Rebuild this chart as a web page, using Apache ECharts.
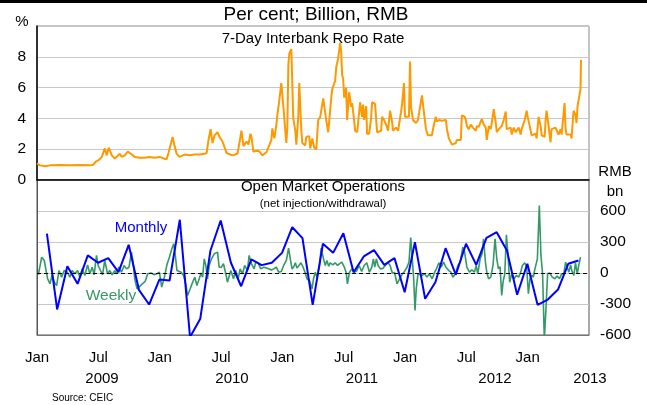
<!DOCTYPE html>
<html style="height: 100%">
<head>
    <meta charset="utf-8">
    <title>China repo rate and open market operations</title>
</head>
<body style="height: 100%; margin: 0">
    <div id="container" style="width: 647px; height: 405px"></div>
    <script type="text/javascript" src="https://cdn.jsdelivr.net/npm/echarts@6/dist/echarts.min.js"></script>
    <script type="text/javascript">
        // x values are months since Jan 2009
        var monthLabels = ['Jan', 'Jul'];
        var yearLabels  = ['2009', '2010', '2011', '2012', '2013'];

        // 7-day interbank repo rate, per cent
        var repoRate = [
            [0,1.08],[0.29,0.95],[0.78,0.9],[1.27,0.95],[2.24,0.97],[3.22,0.95],[4.2,0.97],[5.17,0.95],
            [5.46,0.97],[5.76,1.2],[6.05,1.3],[6.34,1.5],[6.63,2.05],[6.83,1.6],[7.02,2.1],[7.32,1.6],
            [7.61,1.4],[7.8,1.3],[8.1,1.7],[8.29,1.5],[8.59,1.6],[8.88,1.85],[9.17,1.7],[9.56,1.5],
            [10.05,1.45],[10.54,1.45],[11.02,1.5],[11.51,1.45],[12,1.5],[12.39,1.4],[12.68,1.35],[12.88,1.8],
            [13.07,1.85],[13.27,2.8],[13.46,2.2],[13.66,1.7],[13.95,1.5],[14.44,1.65],[14.93,1.6],[15.41,1.65],
            [15.9,1.65],[16.39,1.7],[16.59,1.75],[16.78,2.6],[16.98,3.3],[17.17,2.4],[17.37,2.9],[17.66,3.1],
            [17.85,2.8],[18.15,2.5],[18.54,1.75],[19.12,1.6],[19.61,1.7],[19.8,2.4],[20,3.2],[20.2,2.2],
            [20.49,2.5],[20.68,2.3],[20.88,3.0],[20.98,2.8],[21.17,1.85],[21.56,1.9],[21.76,1.85],[22.05,1.6],
            [22.44,1.8],[22.63,2.1],[22.93,2.6],[23.02,3.35],[23.22,2.7],[23.41,3.55],[23.51,4.2],[23.71,5.2],
            [23.9,6.3],[24,6.4],[24.1,4.8],[24.29,3.2],[24.39,2.4],[24.49,3.4],[24.59,7.5],[24.68,8.2],
            [24.88,8.5],[24.98,8.6],[25.07,4.0],[25.27,3.2],[25.37,2.3],[25.56,4.1],[25.66,6.3],[25.85,3.3],
            [25.95,2.4],[26.24,2.25],[26.34,2.8],[26.63,2.85],[26.73,2.05],[26.93,2.7],[27.12,2.1],[27.32,2.0],
            [27.51,3.9],[27.71,4.1],[27.8,4.2],[28,5.3],[28.29,3.9],[28.49,3.1],[28.78,5.3],[28.88,5.9],
            [29.17,6.45],[29.27,7.3],[29.46,7.9],[29.66,8.9],[29.76,8.3],[29.85,6.8],[29.95,6.6],[30.05,5.35],
            [30.24,6.0],[30.34,3.9],[30.54,5.7],[30.73,4.75],[30.83,5.0],[31.02,3.9],[31.12,3.2],[31.32,3.1],
            [31.61,5.05],[31.8,4.1],[31.9,4.9],[32,3.9],[32.2,4.8],[32.29,3.0],[32.49,3.0],[32.68,4.0],
            [32.78,5.05],[33.07,4.95],[33.27,3.1],[33.66,3.2],[33.76,4.1],[33.95,3.9],[34.15,3.6],[34.34,3.2],
            [34.54,4.5],[34.73,3.8],[34.83,3.2],[35.12,3.4],[35.32,3.2],[35.61,4.4],[35.71,4.9],[35.9,6.3],
            [36,4.1],[36.1,4.1],[36.39,4.1],[36.49,7.7],[36.59,4.75],[36.78,3.9],[37.07,3.7],[37.27,3.9],
            [37.56,5.1],[37.66,5.5],[37.85,4.4],[38.05,3.3],[38.24,2.9],[38.34,2.9],[38.63,2.9],[38.83,3.6],
            [39.02,4.1],[39.12,3.8],[39.32,3.9],[39.61,3.85],[40,3.9],[40.1,3.3],[40.29,2.7],[40.59,2.3],
            [40.98,2.4],[41.07,2.6],[41.46,2.6],[41.56,4.2],[41.85,4.1],[41.95,3.9],[42.05,3.5],[42.24,3.3],
            [42.44,3.6],[42.63,3.4],[42.73,3.5],[42.93,3.2],[43.02,3.5],[43.22,3.45],[43.41,3.8],[43.51,3.95],
            [43.71,3.6],[43.9,3.4],[44,2.6],[44.2,3.5],[44.39,3.3],[44.49,3.7],[44.68,4.6],[44.88,3.7],
            [44.98,3.1],[45.17,3.3],[45.46,3.5],[45.66,3.9],[45.85,4.45],[45.95,3.3],[46.34,3.4],[46.44,2.95],
            [46.63,3.4],[46.83,3.1],[47.12,3.4],[47.32,2.95],[47.41,3.3],[47.71,3.9],[47.9,4.5],[48,4.1],
            [48.2,3.5],[48.39,2.9],[48.78,3.0],[48.88,2.7],[49.07,4.1],[49.27,3.5],[49.37,2.9],[49.66,2.8],
            [49.76,3.9],[49.85,4.5],[50.05,3.5],[50.24,2.45],[50.34,3.3],[50.73,3.4],[51.02,2.95],[51.22,3.3],
            [51.32,2.95],[51.61,5.0],[51.71,3.3],[51.8,2.95],[52.2,2.95],[52.29,2.7],[52.49,4.5],[52.68,4.2],
            [52.78,3.7],[52.88,4.8],[53.07,4.8],[53.17,5.9],[53.22,7.8]
        ];

        // open market operations, monthly net injection, RMB bn (Jan 2009 .. May 2013)
        var monthlyOmo = [
            380, -353, 66, -105, 170, 99, 144, 8, 273, -163, -305, -63,
            -73, 515, -621, -443, 218, 508, 99, -128, 131, 76, 99, 195,
            443, 337, -308, 283, 195, 385, 8, 160, 222, 79, 144, -186,
            298, -250, -89, 240, -17, 283, 79, 340, 395, 218, -211, 89,
            -308, -257, -160, 89, 121
        ];

        // open market operations, weekly net injection, RMB bn
        var weeklyOmo = [
            [0.13,-17],[0.46,153],[0.71,121],[1.04,-56],[1.27,-105],[1.49,-17],[1.69,-89],[1.92,-121],
            [2.15,24],[2.41,-40],[2.66,24],[2.96,8],[3.22,-40],[3.44,24],[3.71,-8],[3.97,24],
            [4.2,-40],[4.42,40],[4.68,-24],[4.95,79],[5.17,-8],[5.4,56],[5.59,-17],[5.82,170],
            [5.98,73],[6.21,24],[6.41,-17],[6.63,121],[6.9,-8],[7.12,24],[7.35,-17],[7.61,24],
            [7.78,-8],[8,56],[8.26,8],[8.52,73],[8.75,40],[9,56],[9.24,202],[9.4,105],
            [9.56,-56],[9.79,-153],[10.05,-130],[10.34,-102],[10.59,-80],[10.83,-8],[11.15,0],[11.48,-17],
            [11.71,-8],[11.97,8],[12.2,-137],[12.46,-40],[12.71,79],[12.95,153],[13.17,227],[13.37,283],
            [13.53,170],[13.69,24],[13.85,8],[14.1,8],[14.34,-24],[14.57,-114],[14.73,-218],[14.99,-153],
            [15.22,-90],[15.44,-40],[15.64,-121],[15.87,-56],[16.05,0],[16.2,-40],[16.36,137],[16.52,73],
            [16.68,-56],[16.85,73],[17.07,137],[17.34,186],[17.49,170],[17.66,202],[17.82,56],[18.02,56],
            [18.24,89],[18.47,-8],[18.63,-89],[18.96,24],[19.22,-56],[19.44,24],[19.68,-56],[19.87,40],
            [20.1,-8],[20.32,73],[20.59,24],[20.75,170],[20.98,89],[21.24,40],[21.4,105],[21.63,99],
            [21.88,40],[22.18,56],[22.44,48],[22.66,40],[22.93,30],[23.17,40],[23.41,56],[23.64,8],
            [23.9,15],[24.13,73],[24.39,121],[24.61,240],[24.78,137],[24.95,40],[25.12,60],[25.27,99],
            [25.43,48],[25.61,70],[25.82,99],[26,65],[26.24,0],[26.41,-56],[26.66,-75],[26.9,-153],
            [27.05,-56],[27.22,8],[27.39,-40],[27.64,73],[27.8,240],[28.03,137],[28.2,73],[28.36,121],
            [28.54,65],[28.68,99],[28.95,79],[29.17,99],[29.4,73],[29.61,90],[29.82,105],[30.05,60],
            [30.24,8],[30.37,-105],[30.57,8],[30.8,40],[31.02,8],[31.27,20],[31.51,73],[31.76,15],
            [32,73],[32.26,99],[32.52,8],[32.75,56],[32.91,137],[33.04,56],[33.2,137],[33.37,73],
            [33.59,40],[33.85,45],[34.12,79],[34.34,99],[34.54,73],[34.76,0],[34.98,5],[35.22,-105],
            [35.48,-56],[35.74,-8],[35.95,15],[36.2,56],[36.39,105],[36.56,344],[36.71,137],[36.85,-56],
            [36.98,-363],[37.1,-153],[37.27,-8],[37.46,0],[37.69,-24],[37.9,-8],[38.15,-40],[38.39,-8],
            [38.66,-56],[38.9,8],[39.07,40],[39.32,99],[39.54,56],[39.78,105],[40,56],[40.29,24],
            [40.49,8],[40.68,-40],[40.95,-8],[41.17,73],[41.4,105],[41.66,250],[41.83,202],[42.05,56],
            [42.31,8],[42.54,30],[42.8,8],[42.96,73],[43.12,-8],[43.35,137],[43.54,186],[43.68,331],
            [43.87,105],[44,8],[44.17,-56],[44.39,-40],[44.61,73],[44.81,331],[44.98,137],[45.14,40],
            [45.3,60],[45.46,-218],[45.59,-89],[45.76,-8],[45.92,370],[46.08,170],[46.24,-89],[46.44,-8],
            [46.66,-56],[46.9,-24],[47.12,-40],[47.32,8],[47.48,73],[47.71,99],[47.9,60],[48.07,-200],
            [48.23,-56],[48.39,-20],[48.55,-40],[48.71,40],[48.95,137],[49.14,653],[49.3,170],[49.46,-8],
            [49.63,-640],[49.79,-345],[49.95,-8],[50.15,0],[50.41,-40],[50.66,-56],[50.88,-30],[51.12,-56],
            [51.32,-8],[51.54,-8],[51.71,105],[51.87,56],[52.03,8],[52.2,79],[52.34,15],[52.52,-24],
            [52.68,99],[52.85,-8],[53,73],[53.17,153]
        ];

        var FONT = 'Liberation Sans, Arial, sans-serif';

        // monthly values are plotted near the end of each month
        var monthlyData = monthlyOmo.map(function (v, i) { return [i + 0.97, v]; });

        var dom     = document.getElementById('container');
        var myChart = echarts.init(dom, null, {renderer: 'canvas'});

        var axisX = {
            type: 'value',
            min: 0,
            max: 54,
            interval: 6,
            splitLine: {show: false},
            axisTick: {show: false}
        };

        var yearPos = [102, 232, 362, 495, 590];

        function label(text, x, y, size, color, align) {
            return {
                type: 'text', x: x, y: y,
                style: {
                    text: text, font: size + 'px ' + FONT, fill: color || '#000',
                    textAlign: align || 'center', textVerticalAlign: 'middle'
                }
            };
        }

        var option = {
            animation: false,
            backgroundColor: '#fff',
            textStyle: {fontFamily: FONT},
            grid: [
                {left: 37, top: 26, width: 552, height: 154, show: true, borderColor: '#888', borderWidth: 1},
                {left: 37, top: 180, width: 552, height: 155, show: true, borderColor: '#555', borderWidth: 1}
            ],
            xAxis: [
                Object.assign({}, axisX, {
                    gridIndex: 0,
                    axisLine: {show: true, onZero: false, lineStyle: {color: '#000', width: 1.5}},
                    axisLabel: {show: false}
                }),
                Object.assign({}, axisX, {
                    gridIndex: 1,
                    axisLine: {show: true, onZero: false, lineStyle: {color: '#777', width: 1}},
                    axisLabel: {
                        color: '#000', fontSize: 15, fontFamily: FONT, margin: 15,
                        formatter: function (v) {
                            if (v >= 54) return '';
                            return v % 12 === 0 ? monthLabels[0] : monthLabels[1];
                        }
                    }
                })
            ],
            yAxis: [
                {
                    type: 'value', gridIndex: 0, min: 0, max: 10, interval: 2,
                    axisLine: {show: true, lineStyle: {color: '#000', width: 1.5}},
                    axisTick: {show: false},
                    splitLine: {lineStyle: {color: '#c8c8c8', width: 1}},
                    axisLabel: {
                        color: '#000', fontSize: 15.5, fontFamily: FONT, margin: 11,
                        formatter: function (v) { return v === 10 ? '' : v; }
                    }
                },
                {
                    type: 'value', gridIndex: 1, position: 'right', min: -600, max: 900, interval: 300,
                    axisLine: {show: true, lineStyle: {color: '#555', width: 1}},
                    axisTick: {show: false},
                    splitLine: {lineStyle: {color: '#c8c8c8', width: 1}},
                    axisLabel: {
                        color: '#000', fontSize: 15.5, fontFamily: FONT, margin: 11,
                        formatter: function (v) { return v === 900 ? '' : v; }
                    }
                }
            ],
            graphic: [
                {type: 'rect', left: 0, top: 0, shape: {width: 647, height: 3}, style: {fill: '#000'}},
                label('Per cent; Billion, RMB', 316, 15, 19),
                label('%', 22, 22, 15),
                label('7-Day Interbank Repo Rate', 313, 39, 15),
                label('Open Market Operations', 323, 187, 15),
                label('(net injection/withdrawal)', 323, 204, 11.5),
                label('RMB', 615, 172, 15),
                label('bn', 615, 192, 15),
                label('Monthly', 141, 228, 15, '#0000ff'),
                label('Weekly', 111, 296, 15.5, '#339966'),
                label('Source: CEIC', 52, 398, 10, '#000', 'left')
            ].concat(yearLabels.map(function (y, i) {
                return label(y, yearPos[i], 379, 15);
            })),
            series: [
                {
                    name: 'Repo rate', type: 'line', xAxisIndex: 0, yAxisIndex: 0,
                    data: repoRate, showSymbol: false, symbol: 'none',
                    lineStyle: {color: '#ff9900', width: 2}
                },
                {
                    name: 'Weekly', type: 'line', xAxisIndex: 1, yAxisIndex: 1,
                    data: weeklyOmo, showSymbol: false, symbol: 'none',
                    lineStyle: {color: '#339966', width: 1.6}
                },
                {
                    name: 'Monthly', type: 'line', xAxisIndex: 1, yAxisIndex: 1,
                    data: monthlyData, showSymbol: false, symbol: 'none',
                    lineStyle: {color: '#0000ff', width: 2},
                    markLine: {
                        silent: true, symbol: 'none', label: {show: false},
                        lineStyle: {color: '#000', type: [4, 3], width: 1},
                        data: [{yAxis: 0}]
                    }
                }
            ]
        };

        myChart.setOption(option);
    </script>
</body>
</html>
